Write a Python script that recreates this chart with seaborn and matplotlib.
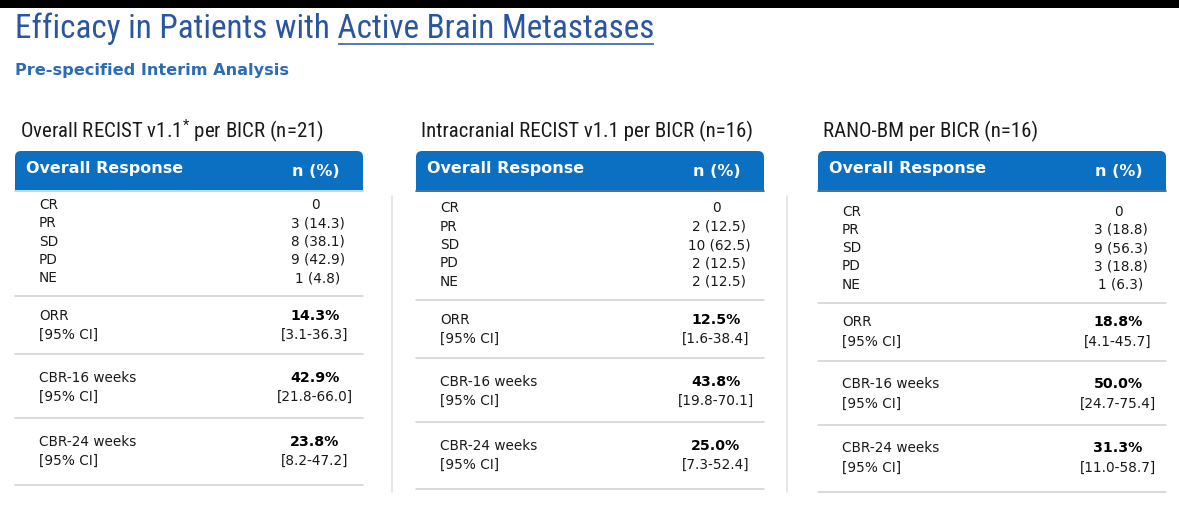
import matplotlib
matplotlib.use("Agg")
import matplotlib.pyplot as plt
from matplotlib import font_manager
from matplotlib.patches import FancyBboxPatch, Rectangle
import seaborn as sns

# ---- data ----
page_title = "Efficacy in Patients with Active Brain Metastases"
underlined = "Active Brain Metastases"
subtitle = "Pre-specified Interim Analysis"

panel_titles = ["Overall RECIST v1.1$^{*}$ per BICR (n=21)",
                "Intracranial RECIST v1.1 per BICR (n=16)",
                "RANO-BM per BICR (n=16)"]
header_left = "Overall Response"
header_right = "n (%)"

responses = ["CR", "PR", "SD", "PD", "NE"]
resp_n = [[0, 3, 8, 9, 1],
          [0, 2, 10, 2, 2],
          [0, 3, 9, 3, 1]]
resp_pct = [[None, 14.3, 38.1, 42.9, 4.8],
            [None, 12.5, 62.5, 12.5, 12.5],
            [None, 18.8, 56.3, 18.8, 6.3]]

metrics = ["ORR", "CBR-16 weeks", "CBR-24 weeks"]
ci_label = "[95% CI]"
rate = [[14.3, 42.9, 23.8],
        [12.5, 43.8, 25.0],
        [18.8, 50.0, 31.3]]
ci_low = [[3.1, 21.8, 8.2],
          [1.6, 19.8, 7.3],
          [4.1, 24.7, 11.0]]
ci_high = [[36.3, 66.0, 47.2],
           [38.4, 70.1, 52.4],
           [45.7, 75.4, 58.7]]

# ---- style ----
sns.set_theme(style="white")
plt.rcParams['font.family'] = ['DejaVu Sans']


def pick(fams):
    for f in fams:
        try:
            font_manager.findfont(font_manager.FontProperties(family=f),
                                  fallback_to_default=False)
            return f
        except Exception:
            pass
    return 'DejaVu Sans'


narrow = pick(['Liberation Sans Narrow', 'Roboto Condensed', 'Open Sans'])
plt.rcParams['mathtext.fontset'] = 'custom'
plt.rcParams['mathtext.rm'] = narrow
plt.rcParams['mathtext.it'] = narrow

BLUE = "#0b6fc2"
TITLE_BLUE = "#2a56a0"
SUB_BLUE = "#2b6cb5"
GREY = "#cfcfcf"
TXT = "#1a1a1a"
FS = 9.8

W, H = 1179, 522
fig = plt.figure(figsize=(W / 100, H / 100), dpi=100)
ax = fig.add_axes([0, 0, 1, 1])
ax.set_xlim(0, W)
ax.set_ylim(H, 0)
ax.axis("off")
sns.despine(ax=ax, left=True, bottom=True)

# black strip at the very top
ax.add_patch(Rectangle((0, 0), W, 8, color="black", lw=0))

# title with underlined part
kw = dict(fontsize=23.9, family=narrow)
ttl = ax.text(15, 29, page_title, color=TITLE_BLUE, va="center", ha="left", **kw)
fig.canvas.draw()
r = fig.canvas.get_renderer()


def width(s, **k):
    t = ax.text(0, 0, s, **k)
    w = t.get_window_extent(r).width
    t.remove()
    return w


prefix = page_title[:page_title.index(underlined)]
u0 = 15 + width(prefix + "A", **kw) - width("A", **kw)
u1 = 15 + ttl.get_window_extent(r).width
ax.plot([u0, u1], [44, 44], color=TITLE_BLUE, lw=1.1, solid_capstyle="butt")

ax.text(15, 70, subtitle, fontsize=11.6, fontweight="bold", color=SUB_BLUE,
        va="center", ha="left")

# panels
x0s = [15, 416, 818]
dys = [0, 3.5, 6.5]
under = ["#a8d4f2", "#1d5a8e", "#1d5a8e"]
pw = 348
for p in range(3):
    x0, dy = x0s[p], dys[p]
    ax.text(x0 + 5, 131, panel_titles[p], fontsize=15, family=narrow,
            color=TXT, va="center", ha="left")
    ax.add_patch(FancyBboxPatch((x0, 151), pw, 39,
                                boxstyle="round,pad=0,rounding_size=6",
                                fc=BLUE, ec="none"))
    ax.add_patch(Rectangle((x0, 172), pw, 18, fc=BLUE, ec="none"))
    ax.plot([x0, x0 + pw], [190.5, 190.5], color=under[p], lw=1.2)
    ax.text(x0 + 11, 169, header_left, fontsize=11.5, fontweight="bold",
            color="white", va="center", ha="left")
    ax.text(x0 + 301, 171, header_right, fontsize=11.5, fontweight="bold",
            color="white", va="center", ha="center")

    cx = x0 + 300
    lx = x0 + 24
    for i, lab in enumerate(responses):
        y = 205 + dy + 18.3 * i
        n, pc = resp_n[p][i], resp_pct[p][i]
        val = "0" if pc is None else f"{n} ({pc})"
        ax.text(lx, y, lab, fontsize=FS, color=TXT, va="center")
        ax.text(cx + (0 if pc is None else 3), y, val, fontsize=FS,
                color=TXT, va="center", ha="center")

    seps = [296, 354, 418, 485]
    for s in seps:
        ax.plot([x0, x0 + pw], [s + dy, s + dy], color=GREY, lw=1.1)

    tops = [316, 378, 442]
    for j, m in enumerate(metrics):
        y = tops[j] + dy
        ax.text(lx, y, m, fontsize=FS, color=TXT, va="center")
        ax.text(lx, y + 19, ci_label, fontsize=FS, color=TXT, va="center")
        ax.text(cx, y, f"{rate[p][j]:.1f}%", fontsize=10.2, fontweight="bold",
                color="black", va="center", ha="center")
        ax.text(cx, y + 19, f"[{ci_low[p][j]:.1f}-{ci_high[p][j]:.1f}]",
                fontsize=FS, color=TXT, va="center", ha="center")

# faint vertical dividers between panels
for vx in [392, 787]:
    ax.plot([vx, vx], [196, 492], color="#e2e2e2", lw=1.2)

fig.savefig("out.png", dpi=100)
